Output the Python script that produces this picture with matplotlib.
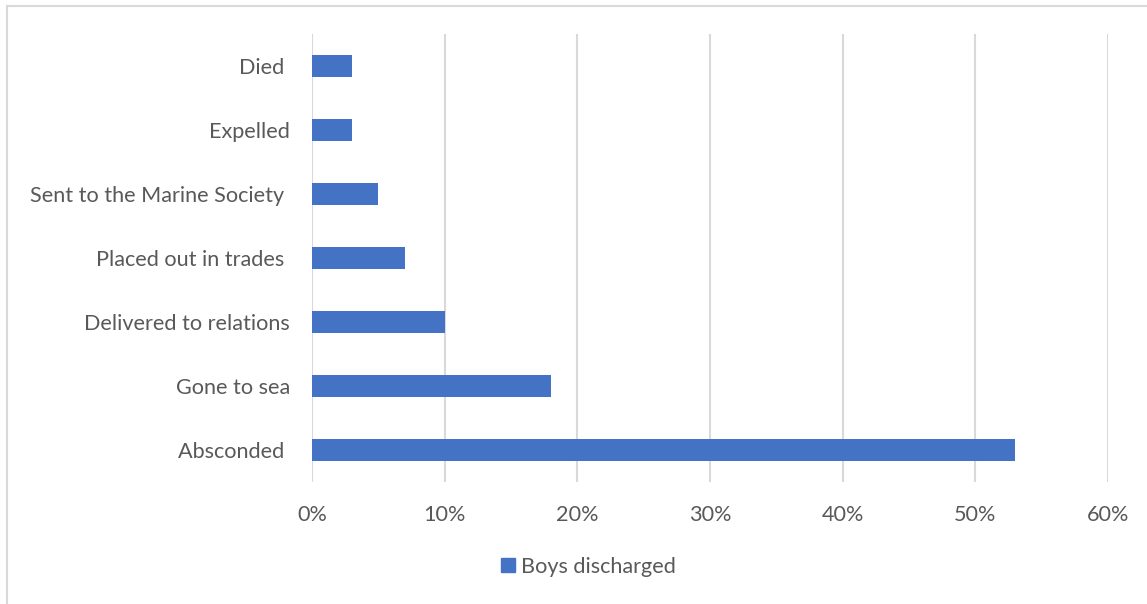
import matplotlib
matplotlib.use('Agg')
import matplotlib.pyplot as plt
from matplotlib.lines import Line2D
from matplotlib.ticker import FuncFormatter, MultipleLocator

# 데이터 (위에서 아래 순서)
categories = [
    "Died ",
    "Expelled",
    "Sent to the Marine Society ",
    "Placed out in trades ",
    "Delivered to relations",
    "Gone to sea",
    "Absconded ",
]
percent = [3, 3, 5, 7, 10, 18, 53]
series_name = "Boys discharged"

BAR_COLOR = "#4472C4"
TEXT_COLOR = "#595959"
GRID_COLOR = "#D9D9D9"

plt.rcParams['font.family'] = ['Lato', 'DejaVu Sans']
FS = 15.6

W, H = 1147, 604
fig = plt.figure(figsize=(W / 100, H / 100), dpi=100)
ax = fig.add_axes([312 / W, 1 - 482 / H, (1108 - 312) / W, (482 - 34) / H])

# 아래에서 위로 그리기
ypos = list(range(len(categories)))[::-1]
ax.barh(ypos, percent, height=0.35, color=BAR_COLOR, label=series_name, zorder=3)

ax.set_xlim(0, 60)
ax.set_ylim(-0.5, len(categories) - 0.5)
ax.xaxis.set_major_locator(MultipleLocator(10))
ax.xaxis.set_major_formatter(FuncFormatter(lambda v, _: f"{v:.0f}%"))
ax.set_yticks(ypos)
ax.set_yticklabels(categories)

ax.grid(axis='x', color=GRID_COLOR, linewidth=1.5, zorder=0)
for s in ax.spines.values():
    s.set_visible(False)
ax.tick_params(axis='both', length=0, labelsize=FS, labelcolor=TEXT_COLOR)
ax.tick_params(axis='x', pad=16.5)
ax.tick_params(axis='y', pad=16)

# 범례
handle = Line2D([], [], marker='s', linestyle='none', markersize=9.5,
                color=BAR_COLOR)
fig.legend([handle], [series_name], loc='center', bbox_to_anchor=(587 / W, 1 - 567 / H),
           frameon=False, fontsize=FS, labelcolor=TEXT_COLOR,
           handletextpad=0.1, handlelength=1.0)

# 차트 영역 테두리 (왼쪽, 위쪽)
fig.add_artist(Line2D([6.5 / W, 6.5 / W], [0, 1 - 5.5 / H], color=GRID_COLOR,
                      linewidth=1.5, transform=fig.transFigure))
fig.add_artist(Line2D([6.5 / W, 1], [1 - 5.5 / H, 1 - 5.5 / H], color=GRID_COLOR,
                      linewidth=1.5, transform=fig.transFigure))

fig.savefig("out.png", dpi=100)
